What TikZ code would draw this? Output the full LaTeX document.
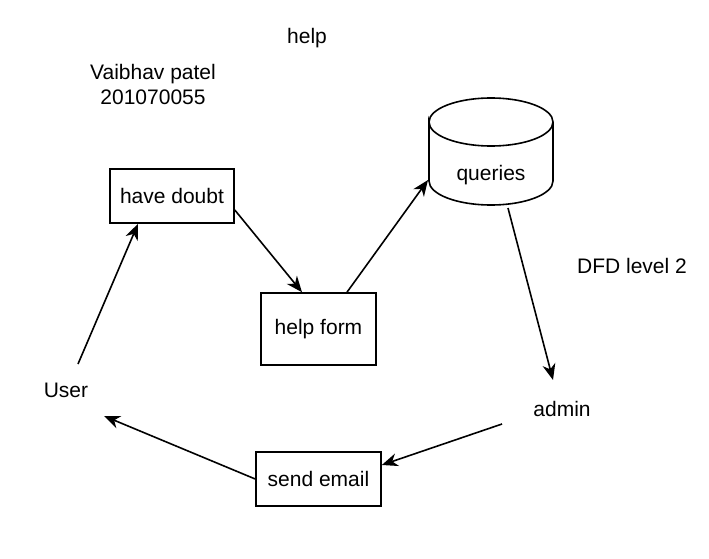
\documentclass[tikz,border=0pt]{standalone}
\usepackage{fontspec}
\setmainfont{Liberation Sans}
\usetikzlibrary{arrows.meta,calc}

\tikzset{
    flowbox/.style={draw,line width=1.6pt,inner sep=0pt},
    flowlabel/.style={inner sep=0pt},
    flowarrow/.style={line width=1.6pt,-{Stealth[length=16pt,width=13pt,inset=5pt]}}
}

\begin{document}
\begin{tikzpicture}[
    x=1pt,y=-1pt,
    font=\fontsize{21}{25}\selectfont
]
    \useasboundingbox (0,0) rectangle (709,559);
    \node[flowlabel] (title) at (307,38) {help};
    \node[flowlabel,align=center] (author) at (153,84) {Vaibhav patel\\201070055};
    \node[flowlabel] (level) at (632,266) {DFD level 2};
    \node[flowbox,minimum width=124,minimum height=54] (doubt) at (172,196) {have doubt};
    \node[flowbox,minimum width=115,minimum height=72] (form) at (318.5,329) {help form};
    \node[flowbox,minimum width=125,minimum height=54] (send) at (318.5,479) {send email};
    \node[flowlabel] (user) at (66,390) {User};
    \node[flowlabel] (admin) at (562,409) {admin};
    \node[flowlabel] (queries) at (491,175) {queries};
    \draw[line width=1.6pt]
        ($(queries)+(-62,-53)$)
        arc [start angle=180,end angle=540,x radius=62,y radius=24]
        -- ($(queries)+(-62,6)$)
        arc [start angle=180,end angle=0,x radius=62,y radius=24]
        -- ($(queries)+(62,-53)$)
    ;
    \draw[flowarrow] ($(user)+(12,-26)$) -- ($(doubt.south)+(-34,0)$);
    \draw[flowarrow] ($(doubt.east)+(0,14)$) -- ($(form.north)+(-16.5,0)$);
    \draw[flowarrow] ($(form.north)+(28.5,0)$) -- ($(queries)+(-63,5)$);
    \draw[flowarrow] ($(queries)+(17,33)$) -- ($(admin)+(-9,-29)$);
    \draw[flowarrow] ($(admin)+(-60,15)$) -- ($(send.east)+(0,-14)$);
    \draw[flowarrow] (send.west) -- ($(user)+(38,26)$);
\end{tikzpicture}
\end{document}
